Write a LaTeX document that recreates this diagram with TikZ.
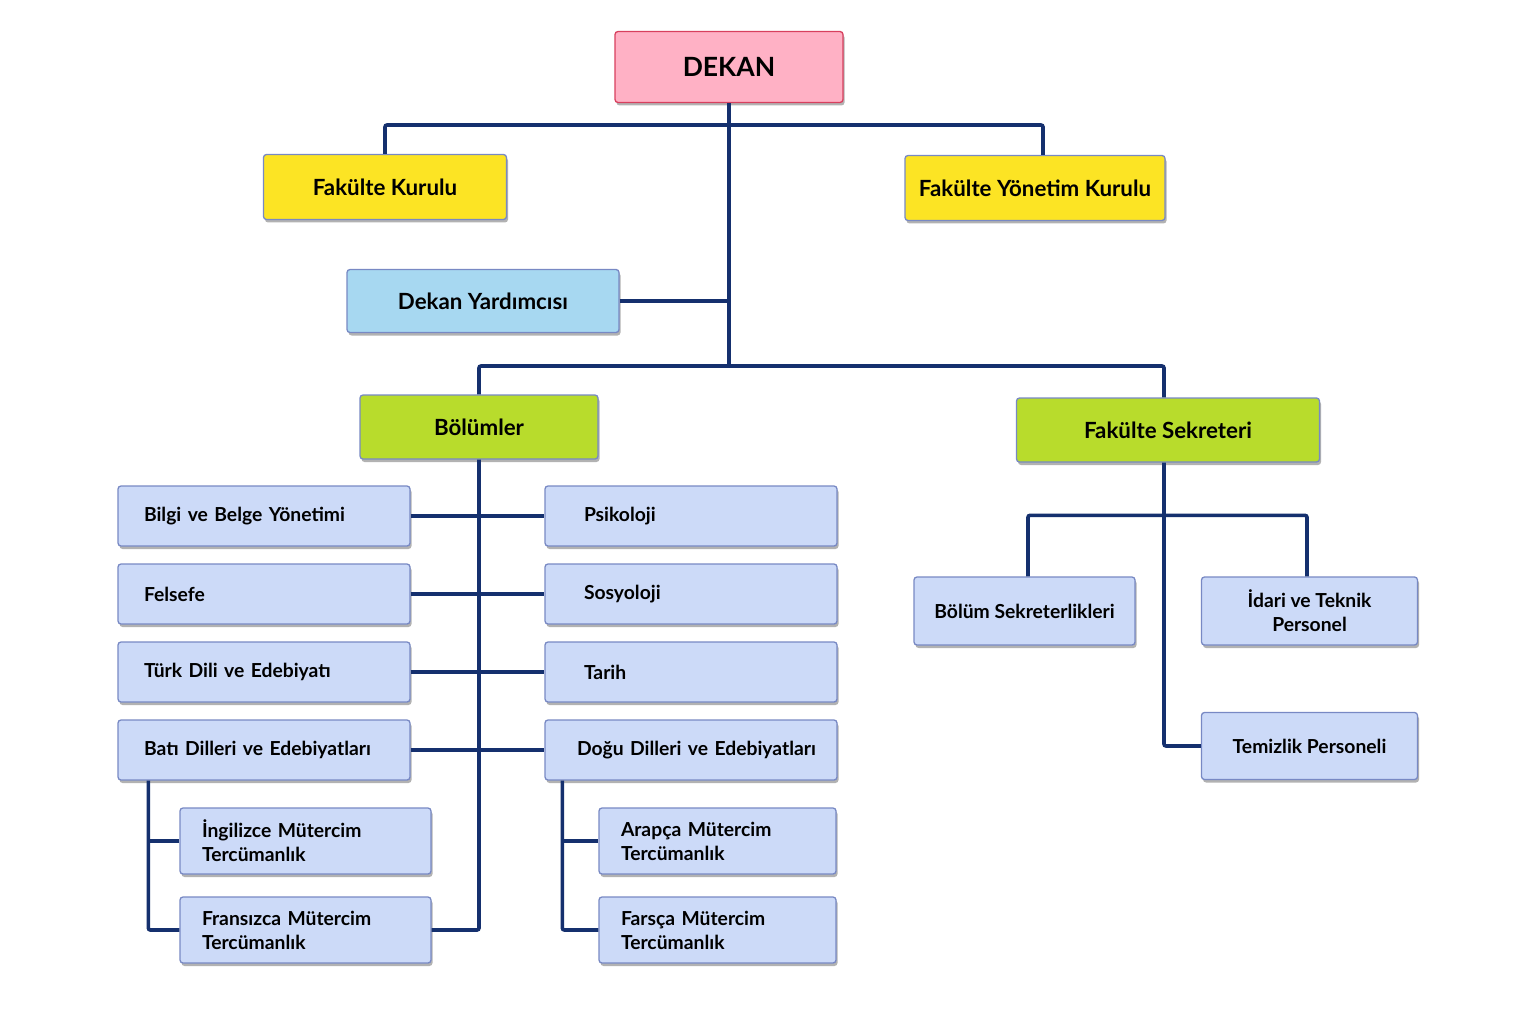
\documentclass[tikz,border=0pt]{standalone}
\usepackage{fontspec}
\setmainfont{Lato}
\usetikzlibrary{shadows}
\definecolor{navy}{HTML}{15306E}
\definecolor{pinkf}{HTML}{FFB1C5}
\definecolor{pinkd}{HTML}{D8405E}
\definecolor{yel}{HTML}{FCE424}
\definecolor{skyf}{HTML}{A7D8F1}
\definecolor{grn}{HTML}{B8DC2C}
\definecolor{bluef}{HTML}{CCDAF8}
\definecolor{blued}{HTML}{7889C4}
\tikzset{
  box/.style={draw=blued, line width=1.3pt, rounded corners=3pt, inner sep=0pt,
    font=\fontsize{19.3}{24}\selectfont\bfseries, text=black,
    drop shadow={shadow xshift=1.5pt, shadow yshift=-3pt, opacity=0.3, fill=black}},
  topbox/.style={box, font=\fontsize{22.3}{26}\selectfont\bfseries},
  conn/.style={draw=navy, line width=3.6pt, rounded corners=2pt},
  lcol/.style={box, fill=bluef, minimum width=292pt, minimum height=60pt, text width=240pt, inner xsep=26pt, align=left},
  rcol/.style={box, fill=bluef, minimum width=292pt, minimum height=60pt, text width=250pt, inner xsep=21pt, align=left},
  subl/.style={box, fill=bluef, minimum width=251pt, minimum height=66pt, text width=207pt, inner xsep=22pt, align=left},
  subr/.style={box, fill=bluef, minimum width=237pt, minimum height=66pt, text width=193pt, inner xsep=22pt, align=left},
  sbox/.style={box, fill=bluef, minimum width=216pt, minimum height=68pt, align=center},
}
\begin{document}
\begin{tikzpicture}[x=1pt, y=-1pt]
\useasboundingbox[fill=white] (0,0) rectangle (1536,1024);
% nodes
\node[box, fill=pinkf, draw=pinkd, minimum width=228pt, minimum height=71pt, font=\fontsize{26.5}{30}\selectfont\bfseries] (dekan) at (729,67) {DEKAN};
\node[topbox, fill=yel, minimum width=243pt, minimum height=65pt] (fk) at (385,187) {Fakülte Kurulu};
\node[topbox, fill=yel, minimum width=260pt, minimum height=65pt] (fyk) at (1035,188) {Fakülte Yönetim Kurulu};
\node[topbox, fill=skyf, minimum width=272pt, minimum height=63pt] (dy) at (483,301) {Dekan Yardımcısı};
\node[topbox, fill=grn, minimum width=238pt, minimum height=64pt] (bo) at (479,427) {Bölümler};
\node[topbox, fill=grn, minimum width=303pt, minimum height=64pt] (fs) at (1168,430) {Fakülte Sekreteri};

\node[lcol] (bilgi) at (264,516) {Bilgi ve Belge Yönetimi};
\node[lcol] (fel) at (264,594) {Felsefe};
\node[lcol] (turk) at (264,672) {Türk Dili ve Edebiyatı};
\node[lcol] (bati) at (264,750) {Batı Dilleri ve Edebiyatları};
\node[rcol] (psi) at (691,516) {\hspace*{18pt}Psikoloji};
\node[rcol] (sos) at (691,594) {\hspace*{18pt}Sosyoloji};
\node[rcol] (tar) at (691,672) {\hspace*{18pt}Tarih};
\node[rcol] (dogu) at (691,750) {\hspace*{11pt}Doğu Dilleri ve Edebiyatları};

\node[subl] (ing) at (305.5,841) {İngilizce Mütercim\\Tercümanlık};
\node[subl] (fr) at (305.5,930) {Fransızca Mütercim\\Tercümanlık};
\node[subr] (ar) at (717.5,841) {Arapça Mütercim\\Tercümanlık};
\node[subr] (fa) at (717.5,930) {Farsça Mütercim\\Tercümanlık};

\node[sbox, minimum width=221pt] (bsk) at (1024.5,611) {Bölüm Sekreterlikleri};
\node[sbox] (idari) at (1309.5,611) {İdari ve Teknik\\Personel};
\node[sbox, minimum height=67pt] (tem) at (1309.5,746) {Temizlik Personeli};

% junctions
\coordinate (j0) at (729,125);
\coordinate (j1) at (729,366);
\coordinate (bs) at ([xshift=31pt]bati.south west);
\coordinate (ds) at ([xshift=18pt]dogu.south west);

% connectors
\draw[conn] (dekan.south) -- (j1);
\draw[conn] (fk.north) |- (j0) -| ([xshift=8pt]fyk.north);
\draw[conn] (dy.east) -- (dy.east -| j1);
\draw[conn] (bo.north) |- (j1) -| ([xshift=-4pt]fs.north);
\draw[conn] (bo.south) |- (fr.east);
\draw[conn] (bilgi.east) -- (psi.west);
\draw[conn] (fel.east) -- (sos.west);
\draw[conn] (turk.east) -- (tar.west);
\draw[conn] (bati.east) -- (dogu.west);
\draw[conn] (bs) |- (fr.west);
\draw[conn] (ing.west) -- (ing.west -| bs);
\draw[conn] (ds) |- (fa.west);
\draw[conn] (ar.west) -- (ar.west -| ds);
\draw[conn] ([xshift=-4pt]fs.south) |- (tem.west);
\draw[conn] ([xshift=3.5pt]bsk.north) -- ++(0,-61) -| ([xshift=-2.5pt]idari.north);
\end{tikzpicture}
\end{document}
